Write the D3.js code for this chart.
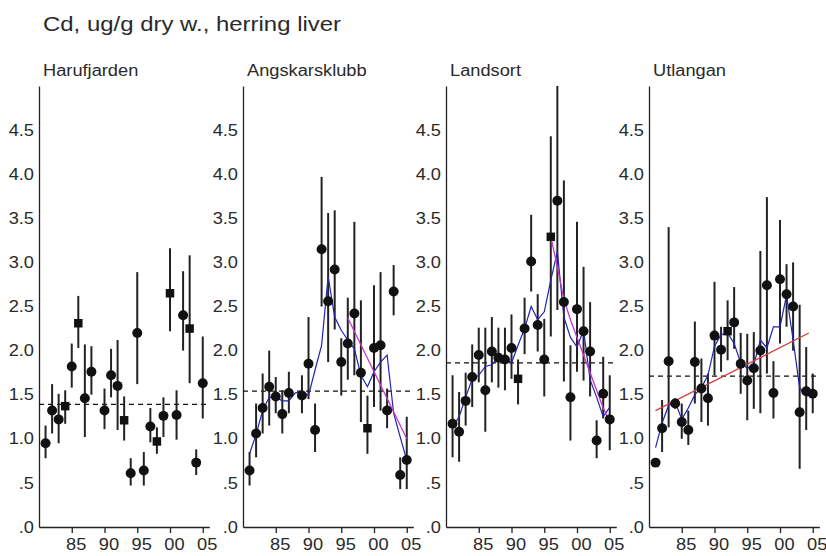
<!DOCTYPE html>
<html><head><meta charset="utf-8">
<script src="https://cdn.jsdelivr.net/npm/d3@7"></script>
<style>
html,body{margin:0;padding:0;background:#fff;}
svg{display:block;}
text{font-family:"Liberation Sans",Arial,sans-serif;fill:#2a2a2a;}
</style></head>
<body>
<svg id="chart" width="826" height="556"></svg>
<script>
const title = "Cd, ug/g dry w., herring liver";
const years = d3.range(1981, 2006);
const stations = ["Harufjarden", "Angskarsklubb", "Landsort", "Utlangan"];
const means = [1.39, 1.54, 1.86, 1.71];
const xTicks = [1985, 1990, 1995, 2000, 2005];
const xTickLabels = ["85", "90", "95", "00", "05"];
const yTicks = [0, 0.5, 1, 1.5, 2, 2.5, 3, 3.5, 4, 4.5];
const yTickLabels = [".0", ".5", "1.0", "1.5", "2.0", "2.5", "3.0", "3.5", "4.0", "4.5"];

// Harufjarden
const haruVal = [0.95,1.32,1.22,1.37,1.82,2.31,1.46,1.76,null,1.32,1.72,1.60,1.21,0.61,2.20,0.64,1.14,0.97,1.26,2.65,1.27,2.40,2.25,0.73,1.63];
const haruLo  = [0.78,1.06,0.95,1.17,1.58,2.03,1.02,1.50,null,1.11,1.47,1.10,0.98,0.47,1.62,0.47,0.96,0.83,1.02,2.22,0.99,2.00,1.63,0.59,1.23];
const haruHi  = [1.15,1.62,1.51,1.55,2.08,2.62,2.07,2.05,null,1.57,2.02,2.12,1.48,0.78,2.89,0.85,1.35,1.13,1.47,3.16,1.55,2.90,3.08,0.88,2.16];
const haruSq  = [1984, 1986, 1993, 1998, 2000, 2003];

// Angskarsklubb
const angVal = [0.64,1.06,1.35,1.59,1.48,1.28,1.52,null,1.49,1.85,1.10,3.15,2.56,2.92,1.87,2.08,2.42,1.75,1.12,2.03,2.06,1.32,2.67,0.59,0.76];
const angLo  = [0.47,0.79,1.06,1.15,1.29,1.06,1.29,null,1.29,1.45,0.85,2.50,1.87,2.24,1.49,1.67,1.72,1.19,0.83,1.36,1.32,1.12,2.40,0.43,0.43];
const angHi  = [0.85,1.40,1.74,2.00,1.70,1.55,1.76,null,1.72,2.38,1.40,3.97,3.56,3.59,2.14,2.60,3.46,2.57,1.49,2.74,2.89,1.57,2.97,0.79,1.25];
const angSq  = [1999];
const angSmooth = [0.83,1.05,1.32,1.47,1.47,1.43,1.43,1.52,1.53,1.49,1.78,2.06,2.84,2.38,2.23,2.12,2.02,1.72,1.59,1.76,1.87,1.95,1.29,1.02,0.76];
const angTrendYears = [1996, 2005];
const angTrend = [2.37, 1.00];

// Landsort
const landVal = [1.17,1.08,1.43,1.70,1.95,1.55,1.99,1.92,1.90,2.03,1.68,2.25,3.01,2.29,1.90,3.29,3.70,2.55,1.47,2.47,2.22,1.99,0.98,1.51,1.22];
const landLo  = [0.79,0.74,1.15,1.36,1.64,1.08,1.64,1.58,1.55,1.68,1.39,1.96,2.67,1.99,1.48,2.16,2.46,1.65,0.98,1.76,1.66,1.48,0.78,1.23,0.87];
const landHi  = [1.72,1.53,1.75,2.07,2.26,2.26,2.38,2.26,2.26,2.41,1.90,2.60,3.54,2.64,2.36,4.43,5.00,3.93,2.06,3.46,2.95,2.55,1.21,1.93,1.72];
const landSq  = [1991, 1996];
const landSmooth = [1.13,1.25,1.47,1.68,1.72,1.82,1.84,1.93,1.92,1.86,2.06,2.25,2.50,2.35,2.44,2.80,3.12,2.38,2.15,2.04,2.23,1.67,1.47,1.25,1.36];
const landTrendYears = [1996,1997,1998,1999,2000,2001,2002,2003,2004,2005];
const landTrend = [3.29,2.95,2.58,2.35,2.15,1.95,1.75,1.55,1.35,1.20];

// Utlangan
const utlVal = [0.73,1.12,1.88,1.40,1.19,1.10,1.87,1.57,1.46,2.17,2.01,2.22,2.32,1.85,1.66,1.80,2.00,2.74,1.52,2.81,2.64,2.50,1.30,1.54,1.51];
const utlLo  = [null,0.85,1.13,1.34,1.00,0.93,1.40,1.19,1.15,1.72,1.76,1.89,2.02,1.51,1.21,1.34,1.29,1.74,1.23,2.08,2.27,2.00,0.66,1.10,1.29];
const utlHi  = [null,1.44,3.40,1.46,1.40,1.32,2.33,1.91,1.74,2.78,2.27,2.57,2.72,2.20,2.19,2.21,3.13,3.74,1.88,3.48,2.98,3.00,2.52,2.04,1.74];
const utlSq  = [1992];
const utlSmooth = [0.90,1.18,1.38,1.42,1.22,1.35,1.50,1.58,1.72,2.05,2.18,2.20,2.08,1.86,1.80,1.84,2.12,2.03,2.27,2.27,2.63,2.12,1.58,1.48,1.52];
const utlTrendYears = [1981, 2004.4];
const utlTrend = [1.32, 2.20];

const panels = [
  {val: haruVal, lo: haruLo, hi: haruHi, sq: haruSq, smooth: null, trendYears: null, trend: null, trendColor: null},
  {val: angVal, lo: angLo, hi: angHi, sq: angSq, smooth: angSmooth, trendYears: angTrendYears, trend: angTrend, trendColor: "#cc33cc"},
  {val: landVal, lo: landLo, hi: landHi, sq: landSq, smooth: landSmooth, trendYears: landTrendYears, trend: landTrend, trendColor: "#cc33cc"},
  {val: utlVal, lo: utlLo, hi: utlHi, sq: utlSq, smooth: utlSmooth, trendYears: utlTrendYears, trend: utlTrend, trendColor: "#d04040"}
];

const svg = d3.select("#chart");
svg.append("text").attr("class", "wide").attr("x", 43).attr("y", 31).attr("font-size", 21).attr("fill", "#3a3a3a").text(title);

const axisX0 = [39, 243, 446, 649];
const panelW = 170.3;
const y = d3.scaleLinear().domain([0, 5]).range([527, 86]);
const FONT = '"Liberation Sans",Arial,sans-serif';

panels.forEach((p, i) => {
  const x = d3.scaleLinear().domain([1980, 2006]).range([axisX0[i], axisX0[i] + panelW]);
  const g = svg.append("g");

  g.append("text").attr("class", "wide").attr("x", axisX0[i] + 4).attr("y", 76).attr("font-size", 16).text(stations[i]);

  const xa = g.append("g").attr("transform", `translate(0,${y(0)})`)
    .call(d3.axisBottom(x).tickValues(xTicks).tickSize(6).tickSizeOuter(0)
      .tickFormat((d, k) => xTickLabels[k]));
  xa.selectAll("text").attr("class", "wide").attr("font-size", 16).attr("dx", 4).attr("dy", "0.85em").style("font-family", FONT).attr("fill", "#2a2a2a");
  xa.selectAll("line,path").attr("stroke", "#222").attr("stroke-width", 1.3);

  const ya = g.append("g").attr("transform", `translate(${axisX0[i]},0)`)
    .call(d3.axisLeft(y).tickValues(yTicks).tickSize(0).tickSizeOuter(0).tickPadding(5)
      .tickFormat((d, k) => yTickLabels[k]));
  ya.selectAll("text").attr("class", "wide").attr("font-size", 16).style("font-family", FONT).attr("fill", "#2a2a2a");
  ya.select("path").attr("stroke", "#222").attr("stroke-width", 1.3);

  g.append("line").attr("x1", x(1980)).attr("x2", x(2006.1))
    .attr("y1", y(means[i])).attr("y2", y(means[i]))
    .attr("stroke", "#111").attr("stroke-width", 1.2).attr("stroke-dasharray", "5,4");

  const pts = years.map((yr, k) => ({yr, v: p.val[k], lo: p.lo[k], hi: p.hi[k]})).filter(d => d.v != null);

  g.selectAll(".eb").data(pts.filter(d => d.lo != null)).enter().append("line")
    .attr("x1", d => x(d.yr)).attr("x2", d => x(d.yr))
    .attr("y1", d => y(d.lo)).attr("y2", d => y(d.hi))
    .attr("stroke", "#222").attr("stroke-width", 2);

  if (p.smooth) {
    const line = d3.line().x((d, k) => x(years[k])).y(d => y(d));
    g.append("path").attr("d", line(p.smooth)).attr("fill", "none")
      .attr("stroke", "#2222b4").attr("stroke-width", 1.2);
  }
  if (p.trend) {
    const line = d3.line().x((d, k) => x(p.trendYears[k])).y(d => y(d));
    g.append("path").attr("d", line(p.trend)).attr("fill", "none")
      .attr("stroke", p.trendColor).attr("stroke-width", 1.3);
  }

  g.selectAll(".mk").data(pts).enter().append("path")
    .attr("transform", d => `translate(${x(d.yr)},${y(d.v)})`)
    .attr("d", d => d3.symbol().type(p.sq.includes(d.yr) ? d3.symbolSquare : d3.symbolCircle).size(p.sq.includes(d.yr) ? 72 : 78)())
    .attr("fill", "#111");
});

svg.selectAll("text.wide").each(function() {
  const len = this.getComputedTextLength();
  d3.select(this).attr("textLength", len * 1.14).attr("lengthAdjust", "spacingAndGlyphs");
});
</script>
</body></html>
